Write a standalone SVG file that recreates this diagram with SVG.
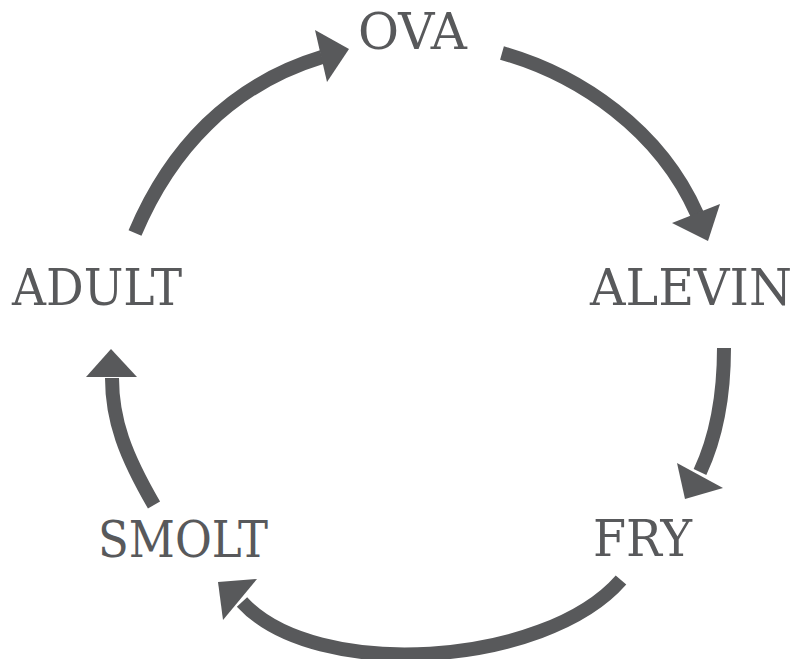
<svg xmlns="http://www.w3.org/2000/svg" width="798" height="659" viewBox="0 0 798 659">
<style>
.lbl{font-family:"DejaVu Serif","Liberation Serif",serif;font-size:50px;fill:#58595b;text-anchor:middle}
.shaft{fill:none;stroke:#58595b;stroke-width:14;stroke-linecap:butt}
.head{fill:#58595b;stroke:none}
</style>
<rect width="798" height="659" fill="#ffffff"/>
<g id="connectors">
<g id="adult-ova"><path class="shaft" d="M135,233 C170,150 230,85 322,57"/><polygon class="head" points="349,49 315,30 327,82"/></g>
<g id="ova-alevin"><path class="shaft" d="M502,53 C580,75 660,130 697,214"/><polygon class="head" points="708,241 672,223 720,204"/></g>
<g id="alevin-fry"><path class="shaft" d="M724,348 C724,400 715,440 700,472"/><polygon class="head" points="685,499 677,463 723,488"/></g>
<g id="fry-smolt"><path class="shaft" d="M621,580 C545,667 315,682 242,602"/><polygon class="head" points="218,582 257,579 223,620"/></g>
<g id="smolt-adult"><path class="shaft" d="M154,505 C125,455 112,420 112,378"/><polygon class="head" points="111,349 86,377 137,377"/></g>
</g>
<g id="ova"><text class="lbl" x="412.5" y="49" textLength="109" lengthAdjust="spacingAndGlyphs">OVA</text></g>
<g id="alevin"><text class="lbl" x="691" y="305" textLength="202" lengthAdjust="spacingAndGlyphs">ALEVIN</text></g>
<g id="fry"><text class="lbl" x="642.5" y="556" textLength="99" lengthAdjust="spacingAndGlyphs">FRY</text></g>
<g id="smolt"><text class="lbl" x="183" y="557" textLength="170" lengthAdjust="spacingAndGlyphs">SMOLT</text></g>
<g id="adult"><text class="lbl" x="97" y="305" textLength="170" lengthAdjust="spacingAndGlyphs">ADULT</text></g>
</svg>
